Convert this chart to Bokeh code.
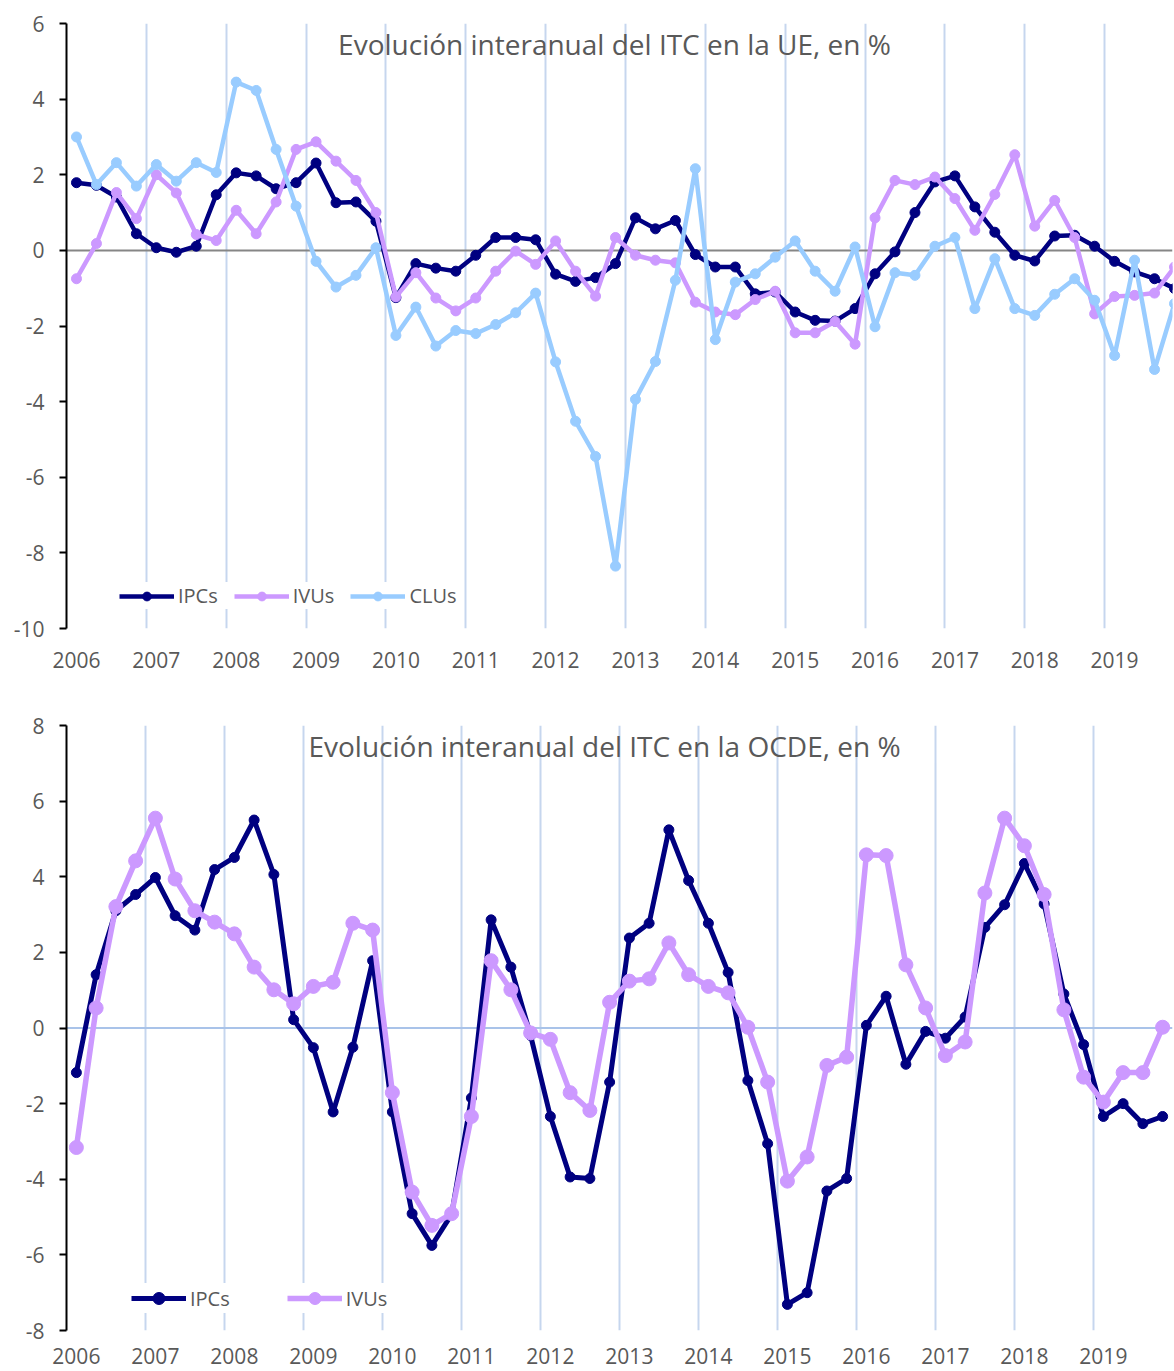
import numpy as np
from bokeh.plotting import figure
from bokeh.models import (FixedTicker, Span, Label, Legend, LegendItem, Range1d)
from bokeh.layouts import column
from bokeh.embed import file_html
from bokeh.resources import INLINE

# ---------------- data ----------------
years = ["2006", "2007", "2008", "2009", "2010", "2011", "2012",
         "2013", "2014", "2015", "2016", "2017", "2018", "2019"]

# UE (quarterly, 2006Q1 .. 2019Q4)
ue_ipc = [1.79, 1.72, 1.41, 0.44, 0.07, -0.05, 0.11, 1.47,
          2.05, 1.97, 1.63, 1.79, 2.31, 1.26, 1.28, 0.77,
          -1.25, -0.35, -0.47, -0.55, -0.13, 0.34, 0.34, 0.28,
          -0.63, -0.82, -0.72, -0.35, 0.86, 0.57, 0.79, -0.11,
          -0.44, -0.44, -1.15, -1.10, -1.63, -1.85, -1.87, -1.54,
          -0.62, -0.04, 1.00, 1.81, 1.97, 1.15, 0.48, -0.13,
          -0.28, 0.38, 0.40, 0.11, -0.29, -0.57, -0.75, -1.01]
ue_ivu = [-0.75, 0.18, 1.53, 0.84, 2.00, 1.52, 0.42, 0.26,
          1.06, 0.44, 1.28, 2.67, 2.87, 2.36, 1.85, 1.00,
          -1.23, -0.59, -1.26, -1.60, -1.26, -0.55, -0.02, -0.37,
          0.25, -0.55, -1.21, 0.34, -0.13, -0.26, -0.33, -1.37,
          -1.63, -1.70, -1.30, -1.08, -2.18, -2.18, -1.88, -2.48,
          0.86, 1.85, 1.74, 1.94, 1.37, 0.53, 1.48, 2.53,
          0.64, 1.32, 0.34, -1.68, -1.22, -1.19, -1.13, -0.44]
ue_clu = [3.00, 1.74, 2.32, 1.70, 2.27, 1.83, 2.32, 2.06,
          4.45, 4.23, 2.67, 1.17, -0.29, -0.97, -0.66, 0.07,
          -2.25, -1.50, -2.53, -2.12, -2.20, -1.96, -1.65, -1.13,
          -2.95, -4.52, -5.45, -8.35, -3.94, -2.94, -0.79, 2.16,
          -2.36, -0.84, -0.62, -0.18, 0.25, -0.55, -1.08, 0.09,
          -2.02, -0.59, -0.66, 0.11, 0.34, -1.54, -0.22, -1.54,
          -1.72, -1.16, -0.75, -1.32, -2.78, -0.26, -3.15, -1.41]

# OCDE
ocde_ipc = [-1.18, 1.41, 3.10, 3.53, 3.98, 2.97, 2.59, 4.19,
            4.51, 5.50, 4.06, 0.22, -0.52, -2.22, -0.51, 1.78,
            -2.22, -4.91, -5.75, -4.93, -1.85, 2.86, 1.61, -0.20,
            -2.34, -3.94, -3.98, -1.43, 2.38, 2.77, 5.24, 3.90,
            2.77, 1.47, -1.39, -3.06, -7.31, -7.00, -4.31, -3.98,
            0.07, 0.84, -0.96, -0.09, -0.27, 0.29, 2.66, 3.26,
            4.35, 3.28, 0.90, -0.44, -2.34, -2.00, -2.53, -2.34]
ocde_ivu = [-3.16, 0.53, 3.21, 4.42, 5.55, 3.94, 3.10, 2.80,
            2.49, 1.61, 1.01, 0.64, 1.10, 1.21, 2.77, 2.59,
            -1.71, -4.34, -5.22, -4.91, -2.34, 1.78, 1.01, -0.13,
            -0.30, -1.71, -2.18, 0.68, 1.24, 1.30, 2.25, 1.41,
            1.10, 0.93, 0.02, -1.43, -4.05, -3.41, -0.99, -0.77,
            4.58, 4.56, 1.67, 0.53, -0.73, -0.37, 3.57, 5.55,
            4.82, 3.53, 0.48, -1.30, -1.96, -1.18, -1.18, 0.02]

series_names = ["IPCs", "IVUs", "CLUs"]
FONT = "Open Sans"
TXT = "#595959"


def build(title, data, styles, y_lo, y_hi, x_hi, height, b_top, b_bottom, b_right,
          zero_color, x_standoff, legend_xy, legend_spacing, glyph_h, title_xy):
    p = figure(width=1174, height=height,
               x_range=Range1d(-0.5, x_hi), y_range=Range1d(y_lo, y_hi),
               output_backend="svg", toolbar_location=None,
               min_border_left=66, min_border_right=b_right,
               min_border_top=b_top, min_border_bottom=b_bottom)
    p.outline_line_color = None
    p.background_fill_color = "white"
    p.border_fill_color = "white"

    n_years = len(years)
    # x axis: year labels at first quarter of each year
    p.xaxis.ticker = FixedTicker(ticks=[4 * k for k in range(n_years)])
    p.xaxis.major_label_overrides = {4 * k: years[k] for k in range(n_years)}
    p.xaxis.axis_line_color = None
    p.xaxis.major_tick_line_color = None
    p.xaxis.minor_tick_line_color = None
    p.xaxis.major_tick_out = 0
    p.xaxis.major_tick_in = 0
    p.xaxis.minor_tick_out = 0
    p.xaxis.major_label_standoff = x_standoff
    p.xaxis.major_label_text_font = FONT
    p.xaxis.major_label_text_font_size = "21px"
    p.xaxis.major_label_text_color = TXT

    # vertical gridlines between years
    p.xgrid.ticker = FixedTicker(ticks=[4 * k - 0.5 for k in range(1, n_years + 1)])
    p.xgrid.grid_line_color = "#c6d6ee"
    p.xgrid.grid_line_width = 2
    p.ygrid.visible = False

    # y axis
    yticks = list(range(int(y_lo), int(y_hi) + 1, 2))
    p.yaxis.ticker = FixedTicker(ticks=yticks)
    p.yaxis.major_label_overrides = {t: str(t) for t in yticks}
    p.yaxis.axis_line_color = "black"
    p.yaxis.axis_line_width = 2
    p.yaxis.major_tick_line_color = "black"
    p.yaxis.major_tick_line_width = 2
    p.yaxis.major_tick_out = 7
    p.yaxis.major_tick_in = 0
    p.yaxis.minor_tick_line_color = None
    p.yaxis.major_label_standoff = 15
    p.yaxis.major_label_text_font = FONT
    p.yaxis.major_label_text_font_size = "21px"
    p.yaxis.major_label_text_color = TXT

    p.add_layout(Span(location=0, dimension="width", line_color=zero_color,
                      line_width=2, level="underlay"))

    items = []
    for name, vals, (color, lw, ms) in zip(series_names, data, styles):
        x = np.arange(len(vals))
        lr = p.line(x, vals, line_color=color, line_width=lw, line_join="round")
        sr = p.scatter(x, vals, size=ms, fill_color=color, line_color=color)
        items.append(LegendItem(label=name, renderers=[lr, sr]))

    legend = Legend(items=items, orientation="horizontal",
                    location=legend_xy, spacing=legend_spacing,
                    glyph_width=55, glyph_height=glyph_h, label_standoff=4,
                    padding=8, margin=0,
                    label_text_font=FONT, label_text_font_size="20px",
                    label_text_color=TXT,
                    background_fill_color="white", background_fill_alpha=1,
                    border_line_color=None)
    p.add_layout(legend)

    p.add_layout(Label(x=title_xy[0], y=title_xy[1], x_units="screen", y_units="screen",
                       text=title, text_align="center", text_baseline="middle",
                       text_font=FONT, text_font_size="28px", text_color=TXT))
    return p


p1 = build("Evolución interanual del ITC en la UE, en %",
           [ue_ipc, ue_ivu, ue_clu],
           [("#000080", 4.5, 10), ("#cc99ff", 4.5, 10), ("#99ccff", 4.5, 10)],
           -10, 6, 54.9, 676, 23, 48, 0, "#868686", 23,
           (53, 19), 16, 22, (548, 585))

p2 = build("Evolución interanual del ITC en la OCDE, en %",
           [ocde_ipc, ocde_ivu],
           [("#000080", 5, 10), ("#cc99ff", 5.5, 14)],
           -8, 8, 55.5, 695, 49, 41, 2, "#a9c3e9", 17,
           (65, 17), 57, 30, (538, 585))

layout = column(p1, p2, spacing=0)
open("out.html", "w").write(file_html(layout, INLINE))
